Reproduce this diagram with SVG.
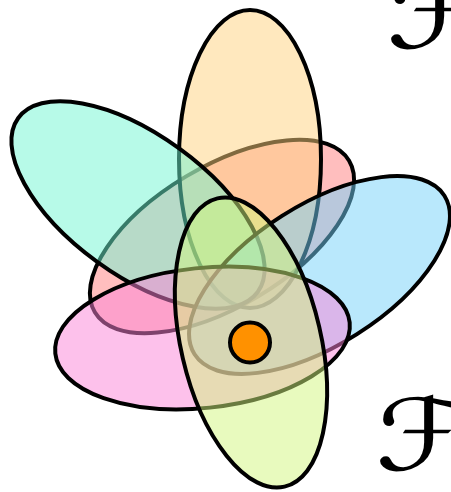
<svg xmlns="http://www.w3.org/2000/svg" width="451" height="492" viewBox="0 0 451 492">
<style>
.set{stroke:#000;stroke-width:4;fill-opacity:0.5}
.lbl{font-family:"DejaVu Sans",sans-serif;font-size:100px;fill:#000}
</style>
<rect width="451" height="492" fill="#fff"/>
<g id="set-salmon"><ellipse class="set" cx="0" cy="0" rx="148" ry="70" fill="#FF7D7D" transform="translate(222,236.5) rotate(-30.8)"/></g>
<g id="set-orange"><ellipse class="set" cx="250" cy="159" rx="71" ry="149" fill="#FFD17D"/></g>
<g id="set-teal"><ellipse class="set" cx="0" cy="0" rx="148" ry="70" fill="#6FF5D1" transform="translate(138,205) rotate(36)"/></g>
<g id="set-blue"><ellipse class="set" cx="0" cy="0" rx="148" ry="70" fill="#73D1F9" transform="translate(319.5,275) rotate(-32.4)"/></g>
<g id="set-pink"><ellipse class="set" cx="0" cy="0" rx="148" ry="70" fill="#FB83D7" transform="translate(202.5,338) rotate(-6)"/></g>
<g id="set-green"><ellipse class="set" cx="0" cy="0" rx="148" ry="70" fill="#D1F57D" transform="translate(251,342.5) rotate(76.9)"/></g>
<g id="kernel"><circle cx="250" cy="342.5" r="20" fill="#FF9100" stroke="#000" stroke-width="4"/></g>
<g id="label-top"><text class="lbl" transform="translate(386,48) scale(1.2,1)">ℱ</text></g>
<g id="label-bottom"><text class="lbl" transform="translate(375,470) scale(1.2,1)">ℱ</text></g>
</svg>
